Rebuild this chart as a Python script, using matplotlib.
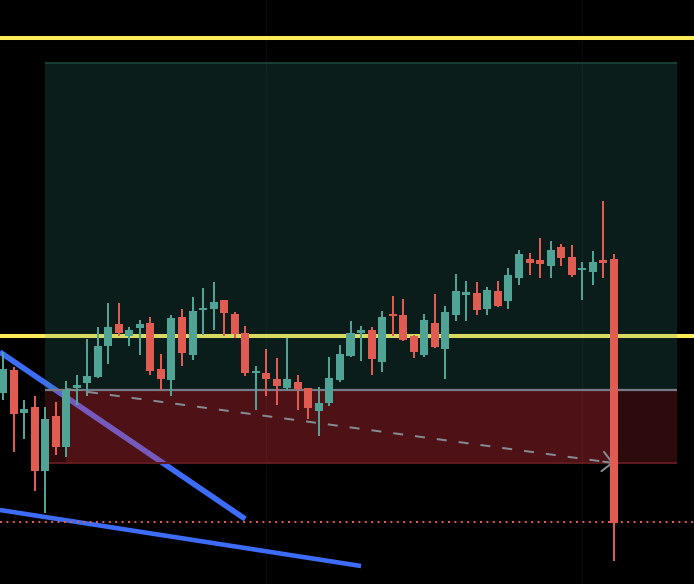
import matplotlib
matplotlib.use('Agg')
import matplotlib.pyplot as plt
from matplotlib.patches import Rectangle

# candle data (price units)
opens = [191, 214, 171, 177, 113, 168, 137, 196, 201, 207, 238, 260, 248, 256, 261, 215, 204, 267, 229, 274,
         275, 284, 270, 251, 211, 211, 205, 196, 202, 196, 173, 181, 204, 228, 251, 254, 222, 270, 269, 248,
         229, 261, 235, 269, 289, 291, 275, 293, 283, 306, 325, 324, 318, 337, 327, 314, 312, 324, 325]
highs = [232, 217, 184, 188, 177, 182, 203, 209, 245, 257, 281, 281, 257, 264, 267, 230, 269, 275, 287, 296,
         302, 284, 272, 258, 218, 235, 226, 246, 209, 196, 197, 227, 239, 263, 258, 257, 273, 288, 285, 249,
         270, 290, 278, 310, 303, 302, 297, 303, 316, 334, 331, 346, 343, 340, 339, 322, 333, 383, 330]
lows = [184, 132, 145, 93, 71, 129, 127, 179, 188, 206, 220, 248, 238, 229, 209, 194, 188, 218, 224, 249,
        254, 248, 246, 208, 174, 188, 179, 194, 174, 165, 148, 178, 202, 227, 223, 209, 212, 248, 243, 226,
        227, 236, 205, 263, 263, 269, 269, 277, 275, 299, 309, 306, 306, 318, 307, 284, 299, 306, 23]
closes = [215, 170, 175, 113, 165, 137, 194, 199, 208, 238, 257, 251, 254, 260, 213, 205, 266, 231, 273, 276,
          282, 271, 250, 211, 212, 205, 198, 205, 195, 176, 181, 206, 230, 251, 254, 225, 267, 268, 244, 232,
          264, 237, 272, 293, 292, 274, 294, 278, 309, 330, 321, 320, 334, 326, 309, 316, 322, 321, 61]

# drawings
resistance_levels = [546.5, 248]
entry_price = 194
target_price = 521
stop_price = 121
zone_start, zone_end = 4, 64
trade_start, trade_end = 6, 58
support_line = 62
trend_a = ([-0.3, 23.0], [232, 65])
trend_b = ([-0.3, 34.0], [74, 18])
grid_x = [25, 55]

up_color = '#50a495'
down_color = '#e05c53'

fig = plt.figure(figsize=(6.94, 5.84), dpi=100, facecolor='black')
ax = fig.add_axes([0, 0, 1, 1])
ax.set_facecolor('black')
ax.set_xlim(-0.285, 65.62)
ax.set_ylim(0, 584)
ax.axis('off')

for gx in grid_x:
    ax.axvline(gx, color='#0a0a0a', lw=1, zorder=0)

# horizontal levels
for lvl in resistance_levels:
    ax.axhline(lvl, color='#ffea58', lw=2.9, zorder=1)
ax.axhline(support_line, color='#e05a50', lw=1.44, dashes=(1, 2.2), zorder=6)

# trend lines
ax.plot(trend_a[0], trend_a[1], color='#3c6cf8', lw=4.0, solid_capstyle='butt', zorder=1)
ax.plot(trend_b[0], trend_b[1], color='#3c6cf8', lw=3.3, solid_capstyle='butt', zorder=1)

# position zones
ax.add_patch(Rectangle((zone_start, entry_price), zone_end - zone_start, target_price - entry_price,
                       facecolor='#37968a', alpha=0.2, lw=0, zorder=2))
ax.hlines(target_price, zone_start, zone_end, color='#183d35', lw=1.5, zorder=2)
ax.add_patch(Rectangle((zone_start, stop_price), zone_end - zone_start, entry_price - stop_price,
                       facecolor='#f23645', alpha=0.19, lw=0, zorder=2))
ax.add_patch(Rectangle((trade_start, stop_price), trade_end - trade_start, entry_price - stop_price,
                       facecolor='#f23645', alpha=0.17, lw=0, zorder=2))
ax.hlines(stop_price, zone_start, zone_end, color='#5e1a1e', lw=1.5, zorder=2)
ax.hlines(entry_price, zone_start, zone_end, color='#787b86', lw=1.6, zorder=3)

# path arrow
ax.plot([trade_start, trade_end], [entry_price + 1, stop_price], color='#858a93', lw=1.44,
        dashes=(5, 6), zorder=3)
ax.annotate('', xy=(trade_end, stop_price), xytext=(trade_end - 1, stop_price + 72 / 52),
            arrowprops=dict(arrowstyle='->,head_length=0.7,head_width=0.7', color='#858a93', lw=1.44,
                            shrinkA=0, shrinkB=0),
            zorder=3)

# candles
for i in range(len(opens)):
    o, h, l, c = opens[i], highs[i], lows[i], closes[i]
    col = up_color if c >= o else down_color
    ax.vlines(i, l, h, color=col, lw=1.44, zorder=4)
    ax.bar(i, max(abs(c - o), 2.5), bottom=min(o, c), width=0.76, color=col, lw=0, zorder=5)

fig.savefig('out.png', dpi=100, facecolor='black')
